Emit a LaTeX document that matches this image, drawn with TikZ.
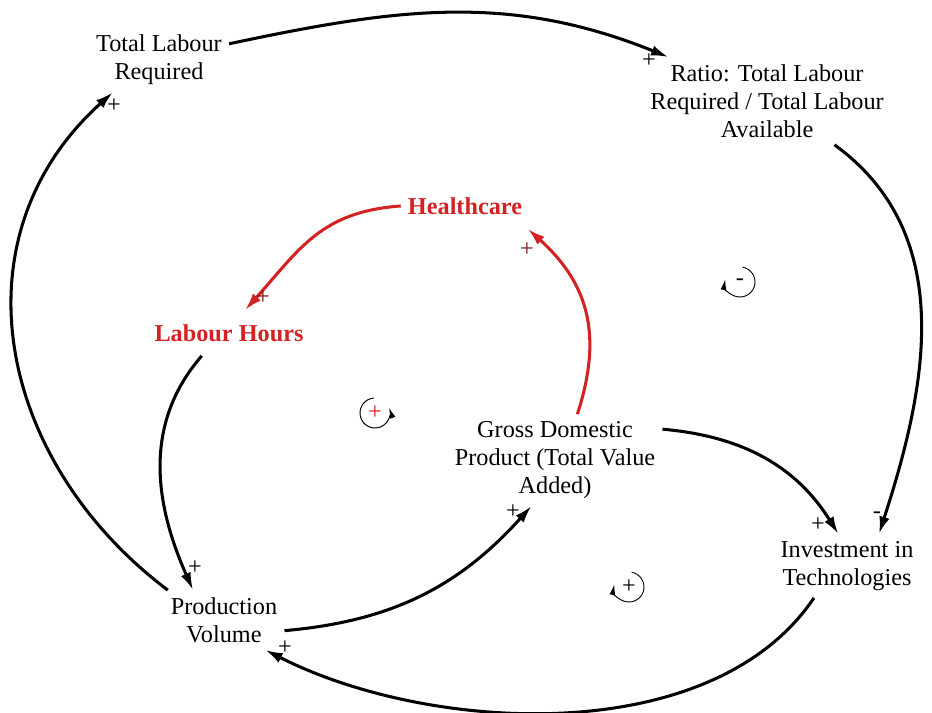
\documentclass[tikz,border=0pt]{standalone}
\usepackage{fontspec}
\setmainfont{Liberation Serif}
\usetikzlibrary{arrows.meta}
\definecolor{cldred}{HTML}{D42121}

\begin{document}
\begin{tikzpicture}[
    x=0.03cm, y=0.03cm,
    var/.style={align=center, inner sep=6pt, font=\fontsize{20.7}{23.9}\selectfont},
    hvar/.style={var, inner ysep=12pt, text=cldred, font=\fontsize{20.7}{23.9}\selectfont\bfseries},
    link/.style={-{Latex[length=15pt, width=9pt]}, line width=2.6pt, draw=#1},
    link/.default=black,
    sgn/.style={inner sep=0pt, text=#1, font=\fontsize{20.7}{20.7}\selectfont},
    sgn/.default=black,
    loopar/.style={-{Latex[length=9pt, width=5pt]}, line width=0.8pt},
]
    \useasboundingbox (0,0) rectangle (932,713);

    % Variables
    \node[var] (tlr) at (159,653) {Total Labour\\Required};
    \node[var] (ratio) at (767,612) {Ratio: Total Labour\\Required / Total Labour\\Available};
    \node[hvar] (health) at (465,507) {Healthcare};
    \node[hvar] (lhours) at (229,380) {Labour Hours};
    \node[var] (gdp) at (555,253) {Gross Domestic\\Product (Total Value\\Added)};
    \node[var] (invest) at (847,147) {Investment in\\Technologies};
    \node[var] (prodvol) at (224,93) {Production\\Volume};

    % Causal links
    \draw[link] (tlr.13) to[out=12, in=158] (ratio.156);
    \draw[link] (ratio.-33) to[out=-36, in=72] (invest.45);
    \draw[link] (gdp.16) to[out=-5, in=122] (invest.105);
    \draw[link] (invest.224) to[out=236, in=-27, looseness=0.85] (prodvol.-36);
    \draw[link] (prodvol.152) to[out=143, in=222, looseness=1.1] (tlr.215);
    \draw[link] (lhours.220) to[out=229, in=114] (prodvol.136);
    \draw[link] (prodvol.-10) to[out=5, in=228] (gdp.243);
    \draw[link=cldred] (gdp.64) to[out=72, in=318, looseness=1.1] (health.-20);
    \draw[link=cldred] (health.west) to[out=184, in=48, looseness=1.1] (lhours.55);

    % Link polarities
    \node[sgn] (s1) at (649,652) {+};
    \node[sgn] (s2) at (877,198) {-};
    \node[sgn] (s3) at (818,188) {+};
    \node[sgn] (s4) at (285,65) {+};
    \node[sgn] (s5) at (114,607) {+};
    \node[sgn] (s6) at (195,145) {+};
    \node[sgn] (s7) at (513,201) {+};
    \node[sgn=cldred!55!black] (s8) at (527,463) {+};
    \node[sgn=cldred!55!black] (s9) at (263,415) {+};

    % Loop markers
    \node[sgn=cldred] (loopA) at (375,300) {+};
    \draw[loopar] (loopA.center) ++(95:15) arc[start angle=95, end angle=380, radius=15];
    \node[sgn] (loopB) at (740,431) {-};
    \draw[loopar] (loopB.center) ++(80:15) arc[start angle=80, end angle=-190, radius=15];
    \node[sgn] (loopC) at (629,126) {+};
    \draw[loopar] (loopC.center) ++(80:15) arc[start angle=80, end angle=-190, radius=15];
\end{tikzpicture}
\end{document}
